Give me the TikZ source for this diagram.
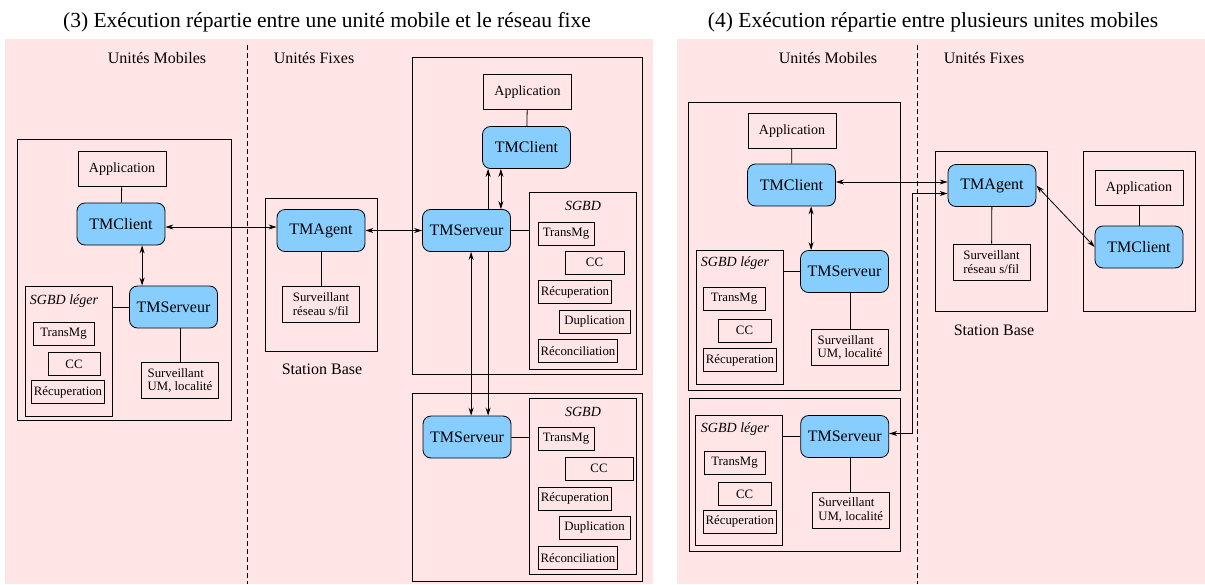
\documentclass[tikz,border=0pt]{standalone}
\usepackage{fontspec}
\setmainfont{Liberation Serif}
\usetikzlibrary{arrows.meta}
\usetikzlibrary{calc}
\usetikzlibrary{fit}
\definecolor{fondrose}{RGB}{255,229,229}
\definecolor{bleutm}{RGB}{135,206,255}

\begin{document}
\begin{tikzpicture}[x=1pt, y=-1pt, line width=0.8pt,
    tm/.style={draw, fill=bleutm, rounded corners=8pt, minimum width=88pt, minimum height=42pt, inner sep=0, font=\fontsize{16}{18}\selectfont},
    app/.style={draw, minimum width=88pt, minimum height=35pt, inner sep=0, font=\fontsize{14}{16}\selectfont},
    mod/.style={draw, minimum height=23pt, inner xsep=2.5pt, inner ysep=0, font=\fontsize{12.8}{13}\selectfont},
    surv/.style={draw, align=left, minimum width=77pt, minimum height=36pt, inner sep=0, font=\fontsize{12.8}{13.5}\selectfont},
    hote/.style={draw, line width=0.9pt, inner sep=0},
    sgbd/.style={draw, inner sep=0},
    sgbdt/.style={font=\fontsize{14}{16}\selectfont\itshape},
    titre/.style={font=\fontsize{21.5}{24}\selectfont},
    entete/.style={font=\fontsize{16}{18}\selectfont},
    fl/.style={-{Stealth[length=8pt,width=5pt]}},
    dbl/.style={{Stealth[length=8pt,width=5pt]}-{Stealth[length=8pt,width=5pt]}}]
\useasboundingbox (0,0) rectangle (1205,584);

% fonds
\fill[fondrose] (5,39) rectangle (653,584);
\fill[fondrose] (677,39) rectangle (1205,584);
\draw[dash pattern=on 5pt off 3pt] (247,45) -- (247,584);
\draw[dash pattern=on 5pt off 3pt] (917,45) -- (917,584);

% (3) une unite mobile et le reseau fixe
\node[titre] (t3) at (327,22) {(3) Exécution répartie entre une unité mobile et le réseau fixe};
\node[entete] (um3) at (157,58) {Unités Mobiles};
\node[entete] (uf3) at (314,58) {Unités Fixes};

\node[hote, fit={(17,139) (231,420)}] (m1) {};
\node[app] (app1) at (122,169) {Application};
\node[tm] (cli1) at (121,224) {TMClient};
\node[tm] (srv1) at (173.5,307) {TMServeur};
\node[sgbd, fit={(25,286) (112,416)}] (bd1) {};
\node[sgbdt] (bdt1) at (64,301) {SGBD léger};
\node[mod, minimum width=61pt] (tr1) at (63.5,333.5) {TransMg};
\node[mod, minimum width=52pt] (cc1) at (74,364) {CC};
\node[mod] (rec1) at (68,392) {Récuperation};
\node[surv] (sv1) at (180,380.5) {Surveillant\\UM, localité};

\node[hote, fit={(265,198) (377,351)}] (sb1) {};
\node[tm] (ag1) at (321,230.5) {TMAgent};
\node[surv] (sr1) at (321,304) {Surveillant\\réseau s/fil};
\node[entete] (sbt1) at (322,369) {Station Base};

\node[hote, fit={(412,57) (642,374)}] (f1) {};
\node[app] (app2) at (527.5,92) {Application};
\node[tm] (cli2) at (526.5,147.5) {TMClient};
\node[tm] (srv2) at (466.5,230.5) {TMServeur};
\node[sgbd, fit={(529,192) (636,369)}] (bd2) {};
\node[sgbdt] (bdt2) at (583,206) {SGBD};
\node[mod, minimum width=56pt] (tr2) at (566,233.5) {TransMg};
\node[mod, minimum width=59pt] (cc2) at (594.5,262.5) {CC};
\node[mod] (rec2) at (575,292) {Récuperation};
\node[mod, minimum width=71pt] (dup2) at (594.5,321.5) {Duplication};
\node[mod] (rcn2) at (578,351) {Réconciliation};

\node[hote, fit={(412,393) (642,581)}] (f2) {};
\node[tm] (srv3) at (467,437) {TMServeur};
\node[sgbd, fit={(529,398) (636,574)}] (bd3) {};
\node[sgbdt] (bdt3) at (583,412) {SGBD};
\node[mod, minimum width=56pt] (tr3) at (566,439) {TransMg};
\node[mod, minimum width=68pt] (cc3) at (599,468.5) {CC};
\node[mod] (rec3) at (575,498.5) {Récuperation};
\node[mod, minimum width=71pt] (dup3) at (594.5,527.5) {Duplication};
\node[mod] (rcn3) at (578,558) {Réconciliation};

\draw (app1) -- (cli1);
\draw[dbl] ([xshift=13pt]srv1.north west) -- ([xshift=13pt]srv1.north west |- cli1.south);
\draw (srv1.west) -- (srv1.west -| bd1.east);
\draw (sv1.north) -- (sv1.north |- srv1.south);
\draw[dbl] ([yshift=-3pt]cli1.east) -- ([yshift=-3pt]cli1.east -| ag1.west);
\draw (ag1) -- (sr1);
\draw[dbl] (ag1.east) -- (srv2.west);
\draw (app2) -- (cli2);
\draw[dbl] ([xshift=-10pt]srv2.north east) -- ([xshift=-10pt]srv2.north east |- cli2.south);
\draw (srv2.east) -- (srv2.east -| bd2.west);
\draw[fl] ([xshift=66pt]srv2.north west) -- ([xshift=66pt]srv2.north west |- cli2.south);
\draw[fl] ([xshift=66pt]srv2.south west) -- ([xshift=66pt]srv2.south west |- srv3.north);
\draw[dbl] ([xshift=49pt]srv2.south west) -- ([xshift=49pt]srv2.south west |- srv3.north);
\draw (srv3.east) -- (srv3.east -| bd3.west);

% (4) plusieurs unites mobiles
\node[titre] (t4) at (933,22) {(4) Exécution répartie entre plusieurs unites mobiles};
\node[entete] (um4) at (828,58) {Unités Mobiles};
\node[entete] (uf4) at (984,58) {Unités Fixes};

\node[hote, fit={(688.5,102) (900.5,390)}] (m2) {};
\node[app] (app4) at (792,131) {Application};
\node[tm] (cli4) at (791.5,185) {TMClient};
\node[tm] (srv4) at (844.5,271.5) {TMServeur};
\node[sgbd, fit={(696,250) (783,384)}] (bd4) {};
\node[sgbdt] (bdt4) at (735,263) {SGBD léger};
\node[mod, minimum width=62pt] (tr4) at (734,298.5) {TransMg};
\node[mod, minimum width=53pt] (cc4) at (744.5,330.5) {CC};
\node[mod] (rec4) at (740,360) {Récuperation};
\node[surv] (sv4) at (850,347.5) {Surveillant\\UM, localité};

\node[hote, fit={(935.5,151.5) (1047.5,311)}] (sb2) {};
\node[tm] (ag2) at (992,185.5) {TMAgent};
\node[surv] (sr2) at (991.5,262) {Surveillant\\réseau s/fil};
\node[entete] (sbt2) at (994,330.5) {Station Base};

\node[hote, fit={(1083,151.5) (1195,311)}] (m3) {};
\node[app] (app5) at (1139,188) {Application};
\node[tm] (cli5) at (1139,247) {TMClient};

\node[hote, fit={(689,398) (900.7,551.7)}] (m4) {};
\node[tm] (srv5) at (844.7,436.5) {TMServeur};
\node[sgbd, fit={(695.7,415.7) (782.7,545)}] (bd5) {};
\node[sgbdt] (bdt5) at (735,429) {SGBD léger};
\node[mod, minimum width=61pt] (tr5) at (734.5,463) {TransMg};
\node[mod, minimum width=53pt] (cc5) at (744.7,494) {CC};
\node[mod] (rec5) at (739.8,521.7) {Récuperation};
\node[surv] (sv5) at (850.7,510) {Surveillant\\UM, localité};

\draw (app4) -- (cli4);
\draw[dbl] ([xshift=11pt]srv4.north west) -- ([xshift=11pt]srv4.north west |- cli4.south);
\draw (srv4.west) -- (srv4.west -| bd4.east);
\draw (sv4.north) -- (sv4.north |- srv4.south);
\draw[dbl] ([yshift=3pt]cli4.east) -- ([yshift=3pt]cli4.east -| ag2.west);
\draw (ag2) -- (sr2);
\draw (app5) -- (cli5);
\draw[dbl] (ag2.east) -- (cli5.west);
\draw (srv5.west) -- (srv5.west -| bd5.east);
\draw (sv5.north) -- (sv5.north |- srv5.south);
\draw[dbl] ([yshift=3pt]srv5.east) -- ++(23,0) |- ([yshift=-8pt]ag2.west);
\end{tikzpicture}
\end{document}
